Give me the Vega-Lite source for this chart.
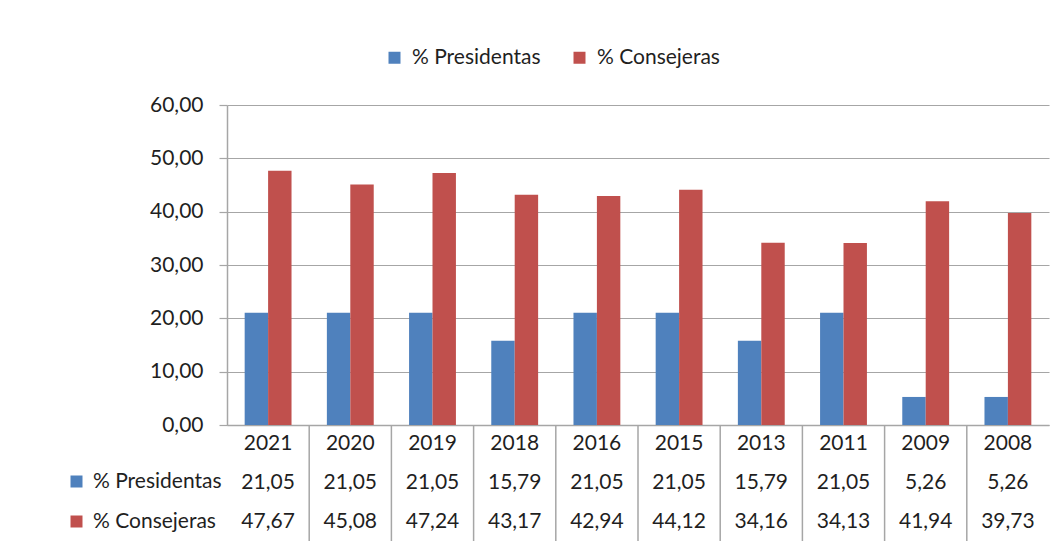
{
  "$schema": "https://vega.github.io/schema/vega-lite/v6.json",
  "padding": {"left": 66, "top": 47, "right": 10, "bottom": 0},
  "background": "white",
  "config": {
    "locale": {"number": {"decimal": ",", "thousands": ".", "grouping": [3], "currency": ["", " €"]}},
    "font": "Lato",
    "view": {"stroke": null},
    "text": {"font": "Lato", "fontSize": 21, "color": "#1f1f1f"},
    "legend": {"labelFont": "Lato", "labelFontSize": 21, "labelColor": "#1f1f1f"},
    "axis": {"labelFont": "Lato", "labelFontSize": 21, "labelColor": "#1f1f1f"}
  },
  "data": {
    "values": [
      {"year": "2021", "series": "% Presidentas", "value": 21.05},
      {"year": "2021", "series": "% Consejeras", "value": 47.67},
      {"year": "2020", "series": "% Presidentas", "value": 21.05},
      {"year": "2020", "series": "% Consejeras", "value": 45.08},
      {"year": "2019", "series": "% Presidentas", "value": 21.05},
      {"year": "2019", "series": "% Consejeras", "value": 47.24},
      {"year": "2018", "series": "% Presidentas", "value": 15.79},
      {"year": "2018", "series": "% Consejeras", "value": 43.17},
      {"year": "2016", "series": "% Presidentas", "value": 21.05},
      {"year": "2016", "series": "% Consejeras", "value": 42.94},
      {"year": "2015", "series": "% Presidentas", "value": 21.05},
      {"year": "2015", "series": "% Consejeras", "value": 44.12},
      {"year": "2013", "series": "% Presidentas", "value": 15.79},
      {"year": "2013", "series": "% Consejeras", "value": 34.16},
      {"year": "2011", "series": "% Presidentas", "value": 21.05},
      {"year": "2011", "series": "% Consejeras", "value": 34.13},
      {"year": "2009", "series": "% Presidentas", "value": 5.26},
      {"year": "2009", "series": "% Consejeras", "value": 41.94},
      {"year": "2008", "series": "% Presidentas", "value": 5.26},
      {"year": "2008", "series": "% Consejeras", "value": 39.73}
    ]
  },
  "spacing": 0,
  "bounds": "flush",
  "resolve": {"scale": {"x": "independent"}, "legend": {"color": "independent"}},
  "vconcat": [
    {
      "width": 822,
      "height": 320,
      "mark": {"type": "bar"},
      "encoding": {
        "x": {
          "field": "year", "type": "nominal",
          "scale": {"domain": ["2021","2020","2019","2018","2016","2015","2013","2011","2009","2008"], "paddingInner": 0.43, "paddingOuter": 0.215},
          "axis": {"title": null, "labels": false, "ticks": false, "domainColor": "#A6A6A6", "domainWidth": 1.5}
        },
        "xOffset": {
          "field": "series", "type": "nominal",
          "scale": {"domain": ["% Presidentas", "% Consejeras"], "paddingInner": 0, "paddingOuter": 0}
        },
        "y": {
          "field": "value", "type": "quantitative",
          "scale": {"domain": [0, 60]},
          "axis": {
            "title": null, "values": [0, 10, 20, 30, 40, 50, 60], "format": ".2f",
            "tickSize": 8, "labelPadding": 16, "tickColor": "#A6A6A6", "domainColor": "#A6A6A6",
            "gridColor": "#A6A6A6", "gridWidth": 1.2, "domainWidth": 1.5, "tickWidth": 1.2
          }
        },
        "color": {
          "field": "series", "type": "nominal",
          "scale": {"domain": ["% Presidentas", "% Consejeras"], "range": ["#4F81BD", "#C0504D"]},
          "legend": {
            "orient": "none", "direction": "horizontal", "legendX": 157, "legendY": -58,
            "title": null, "symbolType": "square", "symbolSize": 144, "symbolStrokeWidth": 0,
            "labelOffset": 7, "columnPadding": 28
          }
        }
      }
    },
    {
      "width": 822,
      "height": 116,
      "layer": [
        {
          "transform": [{"filter": "datum.series === '% Presidentas' && datum.year !== '2021'"}],
          "mark": {"type": "rule", "color": "#A6A6A6", "strokeWidth": 1.5},
          "encoding": {
            "x": {
              "field": "year", "type": "nominal", "bandPosition": 0,
              "scale": {"type": "band", "domain": ["2021","2020","2019","2018","2016","2015","2013","2011","2009","2008"], "paddingInner": 0, "paddingOuter": 0},
              "axis": null
            }
          }
        },
        {
          "transform": [{"filter": "datum.series === '% Presidentas'"}],
          "mark": {"type": "text"},
          "encoding": {
            "x": {"field": "year", "type": "nominal"},
            "y": {"datum": "Año", "type": "nominal", "scale": {"domain": ["Año", "% Presidentas", "% Consejeras"]}, "axis": null},
            "text": {"field": "year"}
          }
        },
        {
          "mark": {"type": "text"},
          "encoding": {
            "x": {"field": "year", "type": "nominal"},
            "y": {"field": "series", "type": "nominal"},
            "text": {"field": "value", "type": "quantitative", "format": ".2f"}
          }
        },
        {
          "mark": {"type": "square", "opacity": 0},
          "encoding": {
            "x": {"field": "year", "type": "nominal"},
            "y": {"field": "series", "type": "nominal"},
            "color": {
              "field": "series", "type": "nominal",
              "legend": {
                "orient": "left", "direction": "vertical", "title": "·", "titleColor": "white",
                "titleFontSize": 20, "titlePadding": 26, "symbolType": "square", "symbolSize": 144,
                "symbolOpacity": 1, "symbolStrokeWidth": 0, "rowPadding": 18, "labelOffset": 6, "offset": 5
              }
            }
          }
        }
      ]
    }
  ]
}
